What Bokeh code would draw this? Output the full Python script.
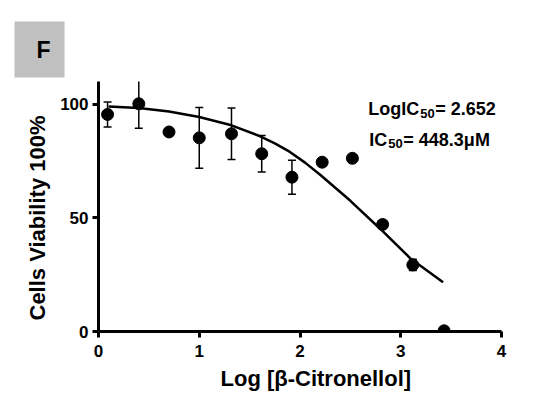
from bokeh.plotting import figure
from bokeh.models import Range1d, Label, Whisker, TeeHead, ColumnDataSource, Title
from bokeh.embed import file_html
from bokeh.resources import INLINE

# ---- data ----
log_conc = [0.09, 0.40, 0.70, 1.00, 1.32, 1.62, 1.92, 2.22, 2.52, 2.82, 3.12, 3.43]
viability = [95.5, 100.2, 87.8, 85.2, 87.0, 78.2, 67.9, 74.5, 76.2, 47.1, 29.3, 0.3]
sem = [5.5, 10.8, 0.0, 13.4, 11.3, 8.0, 7.5, 0.0, 0.0, 0.0, 2.5, 0.0]

fit_x = [0.10, 0.40, 0.70, 1.00, 1.30, 1.60, 1.75, 1.90, 2.05, 2.20, 2.50, 2.80, 3.10, 3.42]
fit_y = [99.0, 98.3, 96.8, 94.4, 91.0, 86.0, 82.8, 79.0, 74.3, 69.0, 57.5, 45.0, 32.0, 21.7]

x_ticks = [0, 1, 2, 3, 4]
y_ticks = [0, 50, 100]

log_ic50_text = "= 2.652"
ic50_text = "= 448.3\u03bcM"
panel_letter = "F"
x_title = "Log [\u03b2-Citronellol]"
y_title = "Cells Viability 100%"

FONT = "Liberation Sans"

p = figure(width=550, height=405, x_range=Range1d(0, 4), y_range=Range1d(0, 110),
           output_backend="svg", toolbar_location=None,
           min_border_left=98, min_border_right=49, min_border_top=81, min_border_bottom=74)
p.outline_line_color = None
p.xgrid.grid_line_color = None
p.ygrid.grid_line_color = None
p.background_fill_color = "white"
p.border_fill_color = "white"

for ax in (p.xaxis[0], p.yaxis[0]):
    ax.axis_line_width = 3
    ax.axis_line_color = "black"
    ax.major_tick_line_width = 3
    ax.major_tick_line_color = "black"
    ax.major_tick_out = 6
    ax.major_tick_in = 0
    ax.minor_tick_line_color = None
    ax.major_label_text_font = FONT
    ax.major_label_text_font_style = "bold"
    ax.major_label_text_font_size = "17px"
    ax.major_label_text_color = "black"
p.xaxis.ticker = x_ticks
p.yaxis.ticker = y_ticks
p.xaxis.major_label_standoff = 7
p.yaxis.major_label_standoff = 4

# axis titles as side titles (offset along the axis)
p.add_layout(Title(text=x_title, align="left", offset=122, standoff=8,
                   text_font=FONT, text_font_style="bold", text_font_size="22px",
                   text_color="black"), "below")
p.add_layout(Title(text=y_title, align="left", offset=11, standoff=15,
                   text_font=FONT, text_font_style="bold", text_font_size="22px",
                   text_color="black"), "left")

# panel letter in a grey box (as title)
p.title = Title(text=panel_letter, align="left", offset=-84, standoff=8,
                text_font=FONT, text_font_style="bold", text_font_size="23px",
                text_color="black", background_fill_color="#c0c0c0",
                padding=dict(left=22, right=14, top=15, bottom=15))

# fitted curve
p.line(fit_x, fit_y, line_color="black", line_width=2.5)

# error bars (only where present)
ex = [x for x, s in zip(log_conc, sem) if s > 0]
eu = [v + s for v, s in zip(viability, sem) if s > 0]
el = [v - s for v, s in zip(viability, sem) if s > 0]
err_src = ColumnDataSource(dict(x=ex, upper=eu, lower=el))
p.add_layout(Whisker(source=err_src, base="x", upper="upper", lower="lower",
                     dimension="height", line_width=1.5, line_color="black",
                     upper_head=TeeHead(size=8, line_width=1.5, line_color="black"),
                     lower_head=TeeHead(size=8, line_width=1.5, line_color="black")))

# points
p.scatter(log_conc, viability, marker="circle", size=12, fill_color="black", line_color="black")

# annotations
def lab(x, y, text, size, xoff=0, yoff=0, **kw):
    p.add_layout(Label(x=x, y=y, text=text, x_offset=xoff, y_offset=yoff,
                       text_font=FONT, text_font_style="bold", text_font_size=size,
                       text_color="black", **kw))

lab(2.678, 97.8, "LogIC", "18px", text_baseline="alphabetic")
lab(2.678, 97.8, "50", "13px", xoff=52, yoff=-4, text_baseline="alphabetic")
lab(2.678, 97.8, log_ic50_text, "18px", xoff=67, text_baseline="alphabetic")

lab(2.688, 84.4, "IC", "18px", text_baseline="alphabetic")
lab(2.688, 84.4, "50", "13px", xoff=19, yoff=-4, text_baseline="alphabetic")
lab(2.688, 84.4, ic50_text, "18px", xoff=34, text_baseline="alphabetic")

open("out.html", "w").write(file_html(p, INLINE))
